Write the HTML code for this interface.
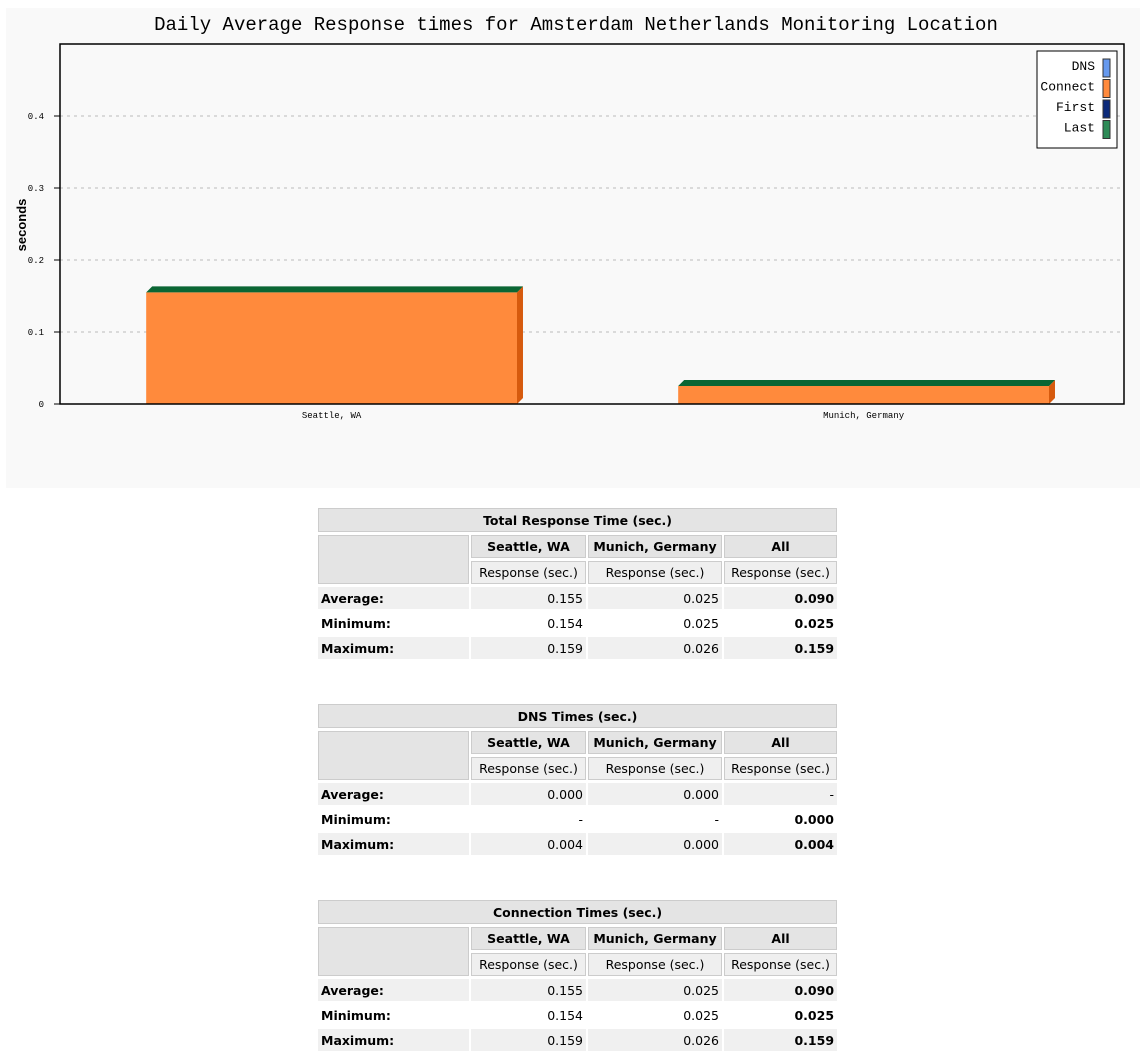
<!DOCTYPE html>
<html><head><meta charset="utf-8"><style>
body{margin:0;background:#fff;width:1147px;height:1023px;overflow:hidden;position:relative;font-family:"DejaVu Sans","Liberation Sans",sans-serif;}
#chart{position:absolute;left:0;top:0}
table.st{position:absolute;left:316px;border-collapse:separate;border-spacing:2px 3px;table-layout:fixed;width:522px;font-size:12.5px;color:#000}
table.st td{padding:0 3px;white-space:nowrap;overflow:hidden}
.t{background:#e4e4e4;border:1px solid #ccc;text-align:center;font-weight:bold;height:22px}
.h{background:#e4e4e4;border:1px solid #ccc;text-align:center;font-weight:bold;height:21px}
.s{background:#efefef;border:1px solid #ccc;text-align:center;height:21px}
.g td{background:#f0f0f0}
tr.r td{height:22px;text-align:right}
tr.r td:first-child{text-align:left;font-weight:bold}
td.b{font-weight:bold}
</style></head><body>
<svg id="chart" width="1147" height="490" xmlns="http://www.w3.org/2000/svg">
<rect x="6" y="8" width="1134" height="480" fill="#f9f9f9"/>
<text x="576" y="30" text-anchor="middle" font-family="Liberation Mono, monospace" font-size="19">Daily Average Response times for Amsterdam Netherlands Monitoring Location</text>
<g id="grid"></g>
<g id="bars"></g>
<rect x="60" y="44" width="1064" height="360" fill="none" stroke="#000" stroke-width="1.5"/>
<text x="26" y="225" transform="rotate(-90 26 225)" text-anchor="middle" font-family="Liberation Sans, sans-serif" font-weight="bold" font-size="13">seconds</text>
<g>
<rect x="1037" y="51" width="80" height="97" fill="#fff" stroke="#000"/>
<g id="legend"></g>
</g>
</svg>
<script>
const categories=["Seattle, WA","Munich, Germany"];
const connectVals=[0.155,0.025];
const lastVals=[0.0,0.0];
const yTicks=[0,0.1,0.2,0.3,0.4];
const yTickLabels=["0","0.1","0.2","0.3","0.4"];
const legendNames=["DNS","Connect","First","Last"];
const legendColors=["#6699ee","#ff8a3c","#0c2a7a","#2e8b57"];
const NS="http://www.w3.org/2000/svg";
const X0=60,X1=1124,Y0=404,Y1=44,YMAX=0.5;
function y(v){return Y0-(v/YMAX)*(Y0-Y1);}
function bandX(i){const w=(X1-X0)/categories.length;return X0+i*w;}
function mk(t,a,p){const e=document.createElementNS(NS,t);for(const k in a)e.setAttribute(k,a[k]);p.appendChild(e);return e;}
const grid=document.getElementById('grid');
yTicks.forEach((v,i)=>{
 if(v>0){const l=mk('line',{x1:X0,x2:X1,y1:y(v),y2:y(v),stroke:'#bbb','stroke-dasharray':'3,4'},grid);
 
 }
 const tk=mk('line',{x1:X0-6,x2:X0,y1:y(v),y2:y(v),stroke:'#000'},grid);
 
 
 const t=mk('text',{x:X0-16,y:y(v)+3,'text-anchor':'end','font-family':'Liberation Mono, monospace','font-size':'9'},grid);
 t.textContent=yTickLabels[i];
 
 
});
const bars=document.getElementById('bars');
const bw=(X1-X0)/categories.length;
categories.forEach((c,i)=>{
 const x=bandX(i)+bw*0.162, w=bw*0.697, d=6;
 const top=y(connectVals[i]+lastVals[i]);
 const g=mk('g',{},bars);
 
 
 mk('rect',{x:x,y:top,width:w,height:Y0-top,fill:'#ff8a3c'},g);
 mk('polygon',{points:`${x+w},${top} ${x+w+d},${top-d} ${x+w+d},${Y0-d} ${x+w},${Y0}`,fill:'#d65a0e'},g);
 mk('polygon',{points:`${x},${top} ${x+d},${top-d} ${x+w+d},${top-d} ${x+w},${top}`,fill:'#0b6634'},g);
 const t=mk('text',{x:x+w/2,y:Y0+14,'text-anchor':'middle','font-family':'Liberation Mono, monospace','font-size':'9'},bars);
 t.textContent=c;
 
 
});
const lg=document.getElementById('legend');
legendNames.forEach((n,i)=>{
 const yy=59+i*20.5;
 const t=mk('text',{x:1095,y:yy+11,'text-anchor':'end','font-family':'Liberation Mono, monospace','font-size':'13'},lg);
 t.textContent=n;
 
 
 const r=mk('rect',{x:1103,y:yy,width:7,height:18,fill:legendColors[i],stroke:'#333'},lg);
 
 
});
</script>

<table class="st" style="top:505px">
<colgroup><col style="width:151px"><col style="width:115px"><col style="width:134px"><col style="width:113px"></colgroup>
<tr><td colspan="4" class="t">Total Response Time (sec.)</td></tr>
<tr><td rowspan="2" class="h"></td><td class="h">Seattle, WA</td><td class="h">Munich, Germany</td><td class="h">All</td></tr>
<tr><td class="s">Response (sec.)</td><td class="s">Response (sec.)</td><td class="s">Response (sec.)</td></tr>
<tr class="r g"><td>Average:</td><td>0.155</td><td>0.025</td><td class="b">0.090</td></tr>
<tr class="r"><td>Minimum:</td><td>0.154</td><td>0.025</td><td class="b">0.025</td></tr>
<tr class="r g"><td>Maximum:</td><td>0.159</td><td>0.026</td><td class="b">0.159</td></tr>
</table>

<table class="st" style="top:701px">
<colgroup><col style="width:151px"><col style="width:115px"><col style="width:134px"><col style="width:113px"></colgroup>
<tr><td colspan="4" class="t">DNS Times (sec.)</td></tr>
<tr><td rowspan="2" class="h"></td><td class="h">Seattle, WA</td><td class="h">Munich, Germany</td><td class="h">All</td></tr>
<tr><td class="s">Response (sec.)</td><td class="s">Response (sec.)</td><td class="s">Response (sec.)</td></tr>
<tr class="r g"><td>Average:</td><td>0.000</td><td>0.000</td><td>-</td></tr>
<tr class="r"><td>Minimum:</td><td>-</td><td>-</td><td class="b">0.000</td></tr>
<tr class="r g"><td>Maximum:</td><td>0.004</td><td>0.000</td><td class="b">0.004</td></tr>
</table>

<table class="st" style="top:897px">
<colgroup><col style="width:151px"><col style="width:115px"><col style="width:134px"><col style="width:113px"></colgroup>
<tr><td colspan="4" class="t">Connection Times (sec.)</td></tr>
<tr><td rowspan="2" class="h"></td><td class="h">Seattle, WA</td><td class="h">Munich, Germany</td><td class="h">All</td></tr>
<tr><td class="s">Response (sec.)</td><td class="s">Response (sec.)</td><td class="s">Response (sec.)</td></tr>
<tr class="r g"><td>Average:</td><td>0.155</td><td>0.025</td><td class="b">0.090</td></tr>
<tr class="r"><td>Minimum:</td><td>0.154</td><td>0.025</td><td class="b">0.025</td></tr>
<tr class="r g"><td>Maximum:</td><td>0.159</td><td>0.026</td><td class="b">0.159</td></tr>
</table>
</body></html>
